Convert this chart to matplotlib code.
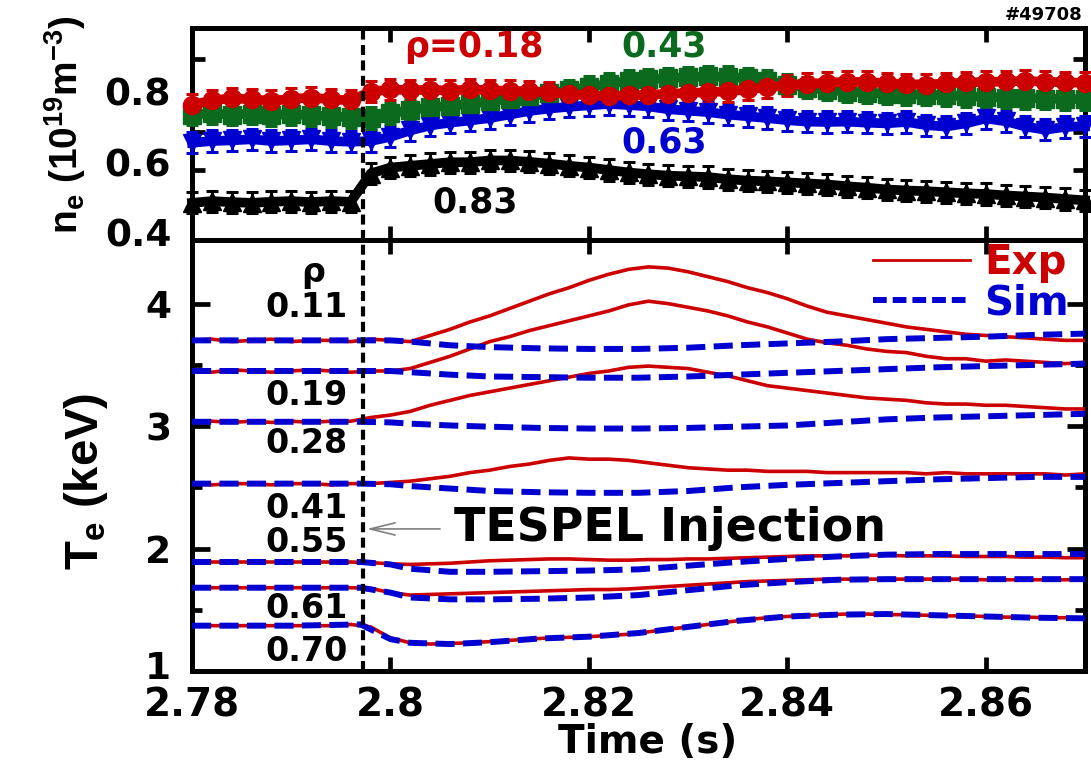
import numpy as np
import matplotlib
matplotlib.use("Agg")
import matplotlib.pyplot as plt
import matplotlib.transforms as mtransforms
from matplotlib.lines import Line2D

plt.rcParams["font.family"] = "DejaVu Sans"
plt.rcParams["font.weight"] = "bold"
plt.rcParams["axes.labelweight"] = "bold"
plt.rcParams["mathtext.fontset"] = "custom"
plt.rcParams["mathtext.bf"] = "Liberation Sans:bold"
plt.rcParams["mathtext.rm"] = "Liberation Sans:bold"
plt.rcParams["mathtext.default"] = "bf"

RED = "#cc0000"
BLUE = "#0000d0"
GREEN = "#0b6a1e"

########################
######## DATOS #########
########################

# densidad (10^19 m^-3), cada 2 ms
t_ne = np.round(np.arange(2.780, 2.8701, 0.002), 3)

ne_018 = [0.762, 0.775, 0.781, 0.778, 0.774, 0.779, 0.783, 0.778, 0.775, 0.800,
          0.806, 0.804, 0.805, 0.803, 0.806, 0.804, 0.802, 0.801, 0.798, 0.793,
          0.789, 0.787, 0.789, 0.791, 0.794, 0.796, 0.798, 0.801, 0.806, 0.812,
          0.818, 0.822, 0.825, 0.828, 0.827, 0.824, 0.821, 0.820, 0.823, 0.826,
          0.827, 0.829, 0.830, 0.828, 0.826, 0.825]
ne_043 = [0.735, 0.738, 0.735, 0.737, 0.734, 0.736, 0.733, 0.730, 0.727, 0.725,
          0.738, 0.748, 0.755, 0.760, 0.765, 0.772, 0.780, 0.787, 0.795, 0.804,
          0.813, 0.822, 0.830, 0.835, 0.838, 0.841, 0.843, 0.842, 0.838, 0.830,
          0.820, 0.811, 0.805, 0.800, 0.797, 0.794, 0.792, 0.791, 0.789, 0.787,
          0.785, 0.783, 0.782, 0.780, 0.779, 0.778]
ne_063 = [0.655, 0.660, 0.662, 0.665, 0.660, 0.662, 0.665, 0.660, 0.658, 0.660,
          0.672, 0.690, 0.704, 0.712, 0.718, 0.725, 0.735, 0.745, 0.752, 0.757,
          0.761, 0.765, 0.762, 0.758, 0.750, 0.746, 0.742, 0.735, 0.730, 0.725,
          0.719, 0.715, 0.714, 0.715, 0.712, 0.710, 0.714, 0.705, 0.701, 0.710,
          0.724, 0.716, 0.701, 0.692, 0.700, 0.702]
ne_083 = [0.485, 0.490, 0.487, 0.485, 0.488, 0.490, 0.487, 0.490, 0.488, 0.568,
          0.585, 0.590, 0.595, 0.600, 0.600, 0.605, 0.605, 0.601, 0.596, 0.590,
          0.585, 0.578, 0.571, 0.566, 0.562, 0.560, 0.558, 0.552, 0.548, 0.546,
          0.543, 0.540, 0.537, 0.532, 0.528, 0.523, 0.520, 0.518, 0.515, 0.512,
          0.510, 0.506, 0.503, 0.500, 0.496, 0.492]
ne_err = 0.03

# temperatura experimental (keV), cada 2 ms
t_exp = np.round(np.arange(2.780, 2.8701, 0.002), 3)

te_011 = [3.70, 3.71, 3.69, 3.70, 3.71, 3.69, 3.70, 3.70, 3.69, 3.71,
          3.70, 3.69, 3.74, 3.79, 3.85, 3.90, 3.96, 4.02, 4.08, 4.13,
          4.19, 4.24, 4.28, 4.30, 4.29, 4.26, 4.22, 4.18, 4.13, 4.09,
          4.04, 3.98, 3.93, 3.90, 3.87, 3.84, 3.81, 3.79, 3.77, 3.75,
          3.74, 3.73, 3.72, 3.71, 3.70, 3.70]
te_019 = [3.45, 3.44, 3.46, 3.45, 3.44, 3.45, 3.46, 3.45, 3.44, 3.45,
          3.45, 3.47, 3.52, 3.57, 3.63, 3.69, 3.73, 3.78, 3.82, 3.86,
          3.90, 3.94, 3.99, 4.02, 4.00, 3.97, 3.94, 3.90, 3.85, 3.81,
          3.76, 3.71, 3.68, 3.66, 3.63, 3.61, 3.60, 3.57, 3.55, 3.55,
          3.53, 3.54, 3.53, 3.52, 3.51, 3.52]
te_028 = [3.03, 3.04, 3.03, 3.04, 3.03, 3.04, 3.03, 3.04, 3.04, 3.07,
          3.09, 3.12, 3.17, 3.21, 3.25, 3.28, 3.31, 3.34, 3.37, 3.40,
          3.43, 3.45, 3.48, 3.49, 3.48, 3.47, 3.44, 3.41, 3.37, 3.33,
          3.31, 3.29, 3.27, 3.25, 3.23, 3.22, 3.21, 3.19, 3.18, 3.18,
          3.17, 3.17, 3.16, 3.15, 3.14, 3.14]
te_041 = [2.53, 2.52, 2.53, 2.53, 2.52, 2.53, 2.53, 2.52, 2.53, 2.53,
          2.54, 2.55, 2.57, 2.59, 2.62, 2.64, 2.67, 2.69, 2.72, 2.74,
          2.73, 2.73, 2.72, 2.70, 2.68, 2.66, 2.65, 2.64, 2.64, 2.63,
          2.63, 2.63, 2.62, 2.62, 2.62, 2.62, 2.62, 2.61, 2.62, 2.61,
          2.61, 2.61, 2.61, 2.61, 2.60, 2.61]
te_055 = [1.89, 1.89, 1.89, 1.89, 1.89, 1.89, 1.89, 1.89, 1.89, 1.885,
          1.875, 1.87, 1.875, 1.88, 1.89, 1.90, 1.905, 1.91, 1.915, 1.915,
          1.91, 1.905, 1.905, 1.91, 1.91, 1.915, 1.915, 1.92, 1.925, 1.93,
          1.935, 1.94, 1.94, 1.94, 1.945, 1.945, 1.94, 1.94, 1.94, 1.935,
          1.935, 1.935, 1.93, 1.93, 1.925, 1.925]
te_061 = [1.68, 1.68, 1.68, 1.68, 1.68, 1.68, 1.68, 1.68, 1.68, 1.675,
          1.64, 1.62, 1.625, 1.63, 1.635, 1.64, 1.645, 1.65, 1.655, 1.66,
          1.665, 1.665, 1.67, 1.68, 1.69, 1.70, 1.71, 1.72, 1.73, 1.735,
          1.74, 1.745, 1.75, 1.75, 1.75, 1.75, 1.75, 1.75, 1.75, 1.75,
          1.745, 1.745, 1.745, 1.745, 1.745, 1.745]
te_070 = [1.37, 1.37, 1.37, 1.37, 1.37, 1.37, 1.37, 1.37, 1.38, 1.36,
          1.27, 1.23, 1.22, 1.225, 1.23, 1.24, 1.25, 1.26, 1.27, 1.275,
          1.28, 1.29, 1.30, 1.32, 1.34, 1.36, 1.38, 1.40, 1.42, 1.435,
          1.445, 1.455, 1.46, 1.465, 1.465, 1.46, 1.46, 1.455, 1.45, 1.45,
          1.445, 1.44, 1.44, 1.435, 1.435, 1.43]

# temperatura simulada (keV)
t_sim = [2.780, 2.790, 2.797, 2.800, 2.802, 2.806, 2.810, 2.815, 2.820, 2.825,
         2.830, 2.835, 2.840, 2.845, 2.850, 2.855, 2.860, 2.865, 2.870]

sim_011 = [3.70, 3.70, 3.70, 3.70, 3.69, 3.66, 3.645, 3.635, 3.63, 3.63,
           3.64, 3.66, 3.675, 3.69, 3.71, 3.72, 3.73, 3.745, 3.755]
sim_019 = [3.45, 3.45, 3.45, 3.45, 3.44, 3.42, 3.405, 3.40, 3.395, 3.395,
           3.405, 3.42, 3.435, 3.45, 3.465, 3.48, 3.49, 3.50, 3.51]
sim_028 = [3.035, 3.035, 3.035, 3.03, 3.02, 3.005, 2.995, 2.985, 2.98, 2.98,
           2.985, 2.995, 3.005, 3.03, 3.055, 3.07, 3.08, 3.09, 3.10]
sim_041 = [2.53, 2.53, 2.53, 2.525, 2.51, 2.49, 2.47, 2.46, 2.455, 2.455,
           2.47, 2.50, 2.52, 2.535, 2.55, 2.565, 2.575, 2.585, 2.585]
sim_055 = [1.89, 1.89, 1.89, 1.87, 1.835, 1.81, 1.81, 1.815, 1.82, 1.83,
           1.86, 1.89, 1.915, 1.935, 1.95, 1.955, 1.955, 1.955, 1.955]
sim_061 = [1.68, 1.68, 1.68, 1.64, 1.60, 1.585, 1.585, 1.59, 1.60, 1.62,
           1.66, 1.70, 1.725, 1.745, 1.75, 1.75, 1.75, 1.75, 1.75]
sim_070 = [1.37, 1.37, 1.38, 1.26, 1.23, 1.22, 1.235, 1.265, 1.28, 1.31,
           1.36, 1.41, 1.445, 1.46, 1.465, 1.455, 1.445, 1.435, 1.43]

te_exp = [te_011, te_019, te_028, te_041, te_055, te_061, te_070]
te_sim = [sim_011, sim_019, sim_028, sim_041, sim_055, sim_061, sim_070]
rho_labels = ["0.11", "0.19", "0.28", "0.41", "0.55", "0.61", "0.70"]

t_injection = 2.7972
xticks = [2.78, 2.80, 2.82, 2.84, 2.86]
xtick_labels = ["2.78", "2.8", "2.82", "2.84", "2.86"]


########################
###### FUNCIONES #######
########################

def style_axes(ax):
    for sp in ax.spines.values():
        sp.set_linewidth(3.6)
    ax.tick_params(which="both", direction="in", top=True, right=True, width=3.4)
    ax.tick_params(which="major", length=10)
    ax.tick_params(which="minor", length=6)
    ax.set_xlim(2.78, 2.87)
    ax.set_xticks(xticks)


fig = plt.figure(figsize=(10.91, 7.63), dpi=100)
ax1 = fig.add_axes([0.176, 0.6855, 0.8185, 0.2778])
ax2 = fig.add_axes([0.176, 0.1206, 0.8185, 0.5649])

# ---- panel superior: densidad ----
style_axes(ax1)
ax1.set_ylim(0.38, 0.98)
ax1.set_xticklabels([])
ax1.set_yticks([0.4, 0.6, 0.8])
ax1.set_yticklabels(["0.4", "0.6", "0.8"], fontsize=27)
ax1.set_yticks([0.578, 0.686, 0.891], minor=True)
ax1.tick_params(axis="y", which="major", length=0, pad=15)
ax1.tick_params(axis="y", which="minor", length=9)

series = [(ne_083, "k", "^"), (ne_063, BLUE, "v"), (ne_043, GREEN, "s"), (ne_018, RED, "o")]
for vals, col, mk in series:
    ax1.errorbar(t_ne, vals, yerr=ne_err, color=col, marker=mk, ms=13, lw=7,
                 elinewidth=2.2, capsize=4.5, capthick=2.2, clip_on=False, zorder=3)

ax1.axvline(t_injection, color="k", lw=3, dashes=[2.4, 1.3], zorder=5)
ax1.text(2.8084, 0.925, "\u03c1=0.18", color=RED, fontsize=25, ha="center", va="center")
ax1.text(2.8276, 0.928, "0.43", color=GREEN, fontsize=25, ha="center", va="center")
ax1.text(2.8276, 0.655, "0.63", color=BLUE, fontsize=25, ha="center", va="center")
ax1.text(2.8085, 0.485, "0.83", color="k", fontsize=25, ha="center", va="center")
ax1.set_ylabel(r"n$_e$ (10$^{19}$m$^{-3}$)", fontsize=28, family="Liberation Sans")
ax1.yaxis.set_label_coords(-0.1165, 0.547)
fig.text(0.992, 0.980, "#49708", fontsize=13, ha="right", va="center")

# ---- panel inferior: temperatura ----
style_axes(ax2)
ax2.set_ylim(1.0, 4.52)
ax2.set_xticklabels(xtick_labels, fontsize=28)
ax2.tick_params(axis="x", pad=11)
ax2.set_yticks([1, 2, 3, 4])
ax2.set_yticklabels(["1", "2", "3", "4"], fontsize=27)
ax2.set_yticks([1.5, 2.5, 3.5], minor=True)
ax2.tick_params(axis="y", which="major", length=13, pad=15)
ax2.tick_params(axis="y", which="minor", length=7)
# el "1" queda pegado al eje inferior, se sube un poco
lab1 = ax2.get_yticklabels()[0]
lab1.set_transform(lab1.get_transform() +
                   mtransforms.ScaledTranslation(0, 4 / 72, fig.dpi_scale_trans))

for vals in te_exp:
    ax2.plot(t_exp, vals, color=RED, lw=2.6, zorder=3)
for vals in te_sim:
    ax2.plot(t_sim, vals, color=BLUE, lw=4.3, dashes=[3.2, 1.4], zorder=4)

ax2.axvline(t_injection, color="k", lw=3, dashes=[2.4, 1.3], zorder=5)

ax2.text(2.7922, 4.253, "\u03c1", fontsize=24, ha="center", va="center")
rho_y = [3.967, 3.248, 2.855, 2.324, 2.046, 1.514, 1.163]
for lab, yy in zip(rho_labels, rho_y):
    ax2.text(2.7915, yy, lab, fontsize=24, ha="center", va="center")

ax2.annotate("TESPEL Injection", xy=(2.7976, 2.16), xytext=(2.8064, 2.16),
             fontsize=33, ha="left", va="center",
             arrowprops=dict(arrowstyle="->,head_length=0.9,head_width=0.22",
                             color="#808080", lw=1.2, mutation_scale=20,
                             shrinkA=8, shrinkB=0))

handles = [Line2D([], [], color=RED, lw=2.0),
           Line2D([], [], color=BLUE, lw=4.3, dashes=[2.3, 1.0])]
leg = ax2.legend(handles, ["Exp", "Sim"], loc="upper right", frameon=False,
                 fontsize=29, handlelength=2.4, handletextpad=0.35,
                 labelspacing=0.0, borderaxespad=0.0,
                 bbox_to_anchor=(1.0, 1.03))
leg.get_texts()[0].set_color(RED)
leg.get_texts()[1].set_color(BLUE)

ax2.set_xlabel("Time (s)", fontsize=28)
ax2.xaxis.set_label_coords(0.51, -0.12)
ax2.set_ylabel(r"T$_e$ (keV)", fontsize=34, family="Liberation Sans")
ax2.yaxis.set_label_coords(-0.092, 0.44)

fig.savefig("out.png", dpi=100)
